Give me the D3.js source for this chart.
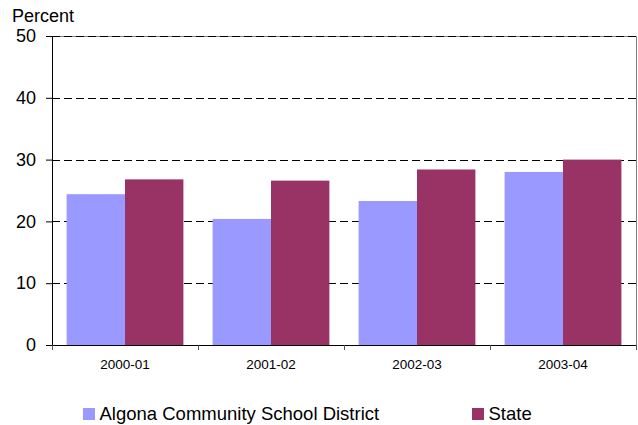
<!DOCTYPE html>
<html><head><meta charset="utf-8">
<script src="https://cdn.jsdelivr.net/npm/d3@7"></script>
<style>body{margin:0;background:#fff}svg{display:block;font-family:Arial,"Liberation Sans",sans-serif}</style>
</head><body>
<svg id="c" width="638" height="425"></svg>
<script>
const categories = ["2000-01","2001-02","2002-03","2003-04"];
const seriesNames = ["Algona Community School District","State"];
const algona = [24.4, 20.4, 23.3, 28.0];
const state = [26.8, 26.6, 28.4, 30.0];
const yTicks = [0,10,20,30,40,50];
const colors = ["#9999ff","#993366"];

const svg = d3.select("#c");
const L = 52, R = 636, T = 36, B = 345;
const x = d3.scaleBand().domain(categories).range([L,R]).paddingInner(0.2).paddingOuter(0.1);
const xs = d3.scaleBand().domain(seriesNames).range([0,x.bandwidth()]);
const y = d3.scaleLinear().domain([0,50]).range([B,T]);

// border top/right
svg.append("path").attr("d",`M${L},${T}.5H${R}.5V${B}`).attr("fill","none").attr("stroke","#808080").attr("stroke-width",1);

// gridlines
svg.append("g").selectAll("line").data(yTicks.filter(d=>d>0)).join("line")
  .attr("x1",L).attr("x2",R).attr("y1",d=>Math.round(y(d))+0.5).attr("y2",d=>Math.round(y(d))+0.5)
  .attr("stroke","#000").attr("stroke-dasharray","8,4").attr("stroke-width",1);

// bars
const data = categories.map((c,i)=>({c, vals:[algona[i], state[i]]}));
const g = svg.append("g").selectAll("g").data(data).join("g").attr("transform",d=>`translate(${x(d.c)},0)`);
g.selectAll("rect").data(d=>d.vals.map((v,j)=>({v,s:seriesNames[j],j}))).join("rect")
  .attr("x",d=>xs(d.s)).attr("width",xs.bandwidth())
  .attr("y",d=>y(d.v)).attr("height",d=>B-y(d.v)).attr("fill",d=>colors[d.j]);

// y axis
const ya = svg.append("g").attr("transform",`translate(${L},0)`)
  .call(d3.axisLeft(y).tickValues(yTicks).tickSize(6).tickSizeOuter(0).tickPadding(10));
ya.select(".domain").attr("stroke","#000");
ya.selectAll("text").attr("font-size",18).attr("fill","#000").attr("font-family","Arial, 'Liberation Sans', sans-serif");
ya.selectAll(".tick line").attr("stroke","#000");

// x axis
svg.append("line").attr("x1",L).attr("x2",R).attr("y1",B+0.5).attr("y2",B+0.5).attr("stroke","#000");
const bounds = categories.map(c=>x(c)-x.step()*x.paddingInner()/2).concat([R]);
svg.append("g").selectAll("line").data(bounds).join("line")
  .attr("x1",d=>Math.round(d)+0.5).attr("x2",d=>Math.round(d)+0.5).attr("y1",B).attr("y2",B+5).attr("stroke","#555");
svg.append("g").selectAll("text").data(categories).join("text")
  .attr("x",d=>x(d)+x.bandwidth()/2).attr("y",369).attr("text-anchor","middle")
  .attr("font-size",13.5).attr("fill","#000").text(d=>d);

// y title
svg.append("text").attr("x",12).attr("y",22).attr("font-size",18).attr("fill","#000").text("Percent");

// legend
const legX = [83, 472];
const lg = svg.append("g").selectAll("g").data(seriesNames).join("g")
  .attr("transform",(d,i)=>`translate(${legX[i]},0)`);
lg.append("rect").attr("x",0).attr("y",408).attr("width",12).attr("height",12).attr("fill",(d,i)=>colors[i]);
lg.append("text").attr("x",16.5).attr("y",420).attr("font-size",18.5).attr("fill","#000").text(d=>d);
</script>
</body></html>
